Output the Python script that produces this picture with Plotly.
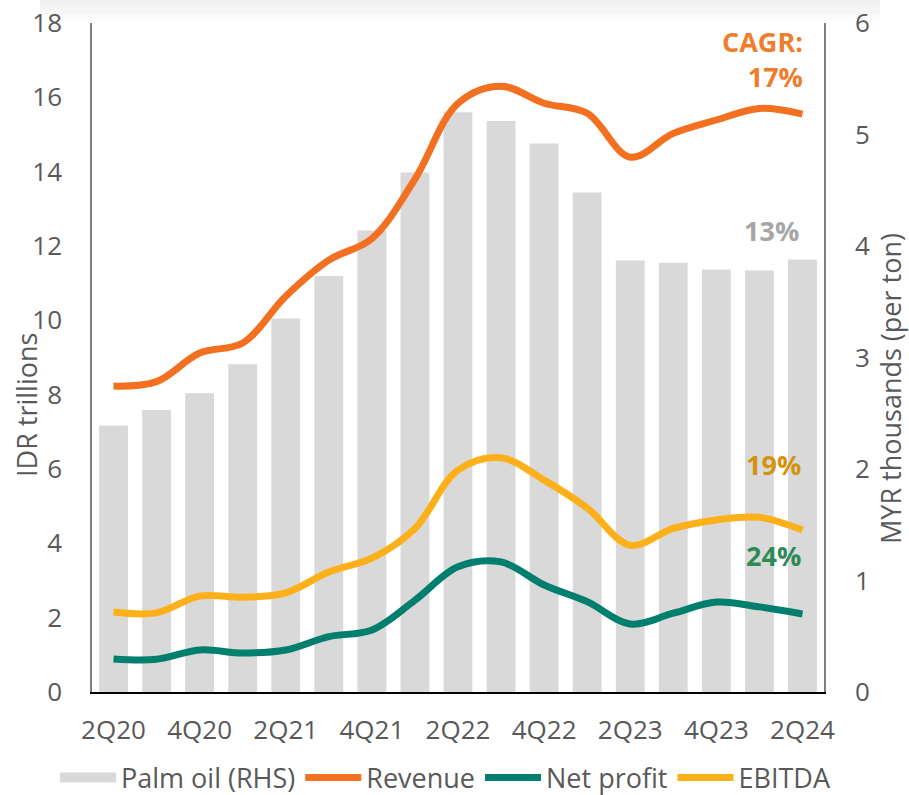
import plotly.graph_objects as go

quarters = ["2Q20", "3Q20", "4Q20", "1Q21", "2Q21", "3Q21", "4Q21", "1Q22", "2Q22",
            "3Q22", "4Q22", "1Q23", "2Q23", "3Q23", "4Q23", "1Q24", "2Q24"]
tick_labels = ["2Q20", "4Q20", "2Q21", "4Q21", "2Q22", "4Q22", "2Q23", "4Q23", "2Q24"]

palm_oil = [2.39, 2.53, 2.68, 2.94, 3.35, 3.73, 4.14, 4.66, 5.20,
            5.12, 4.92, 4.48, 3.87, 3.85, 3.79, 3.78, 3.88]
revenue = [8.23, 8.35, 9.12, 9.39, 10.65, 11.62, 12.2, 13.8, 15.84,
           16.3, 15.84, 15.57, 14.39, 15.03, 15.39, 15.7, 15.55]
ebitda = [2.15, 2.13, 2.58, 2.55, 2.67, 3.23, 3.6, 4.4, 5.97,
          6.3, 5.7, 4.95, 3.95, 4.4, 4.63, 4.7, 4.36]
net_profit = [0.89, 0.88, 1.13, 1.05, 1.13, 1.49, 1.67, 2.47, 3.37,
              3.5, 2.88, 2.43, 1.83, 2.12, 2.42, 2.29, 2.1]

FONT = "Open Sans"
GREY = "#595959"
W, H = 909, 795
L, R, T, B = 92, 85, 23, 103
PW, PH = W - L - R, H - T - B

fig = go.Figure()
fig.add_trace(go.Bar(x=quarters, y=palm_oil, name="Palm oil (RHS)", showlegend=False,
                     marker=dict(color="#D9D9D9", line=dict(width=0)), yaxis="y"))
# legend entry for the bars drawn as a wide grey block
fig.add_trace(go.Scatter(x=[None], y=[None], name="Palm oil (RHS)", mode="lines",
                         line=dict(color="#D9D9D9", width=16), yaxis="y"))
fig.add_trace(go.Scatter(x=quarters, y=revenue, name="Revenue", mode="lines",
                         line=dict(color="#F37021", width=7, shape="spline", smoothing=1.0),
                         yaxis="y2"))
fig.add_trace(go.Scatter(x=quarters, y=net_profit, name="Net profit", mode="lines",
                         line=dict(color="#007F6E", width=7, shape="spline", smoothing=1.0),
                         yaxis="y2"))
fig.add_trace(go.Scatter(x=quarters, y=ebitda, name="EBITDA", mode="lines",
                         line=dict(color="#FDB01A", width=7, shape="spline", smoothing=1.0),
                         yaxis="y2"))

tickfont = dict(family=FONT, size=26, color=GREY)

fig.update_layout(
    width=W, height=H,
    margin=dict(l=L, r=R, t=T, b=B, autoexpand=False),
    paper_bgcolor="white", plot_bgcolor="white",
    bargap=0.33,
    showlegend=True,
    legend=dict(orientation="h", x=(55 - L) / PW, xanchor="left", xref="paper",
                y=(H - B - 778) / PH, yanchor="middle", yref="paper",
                font=dict(family=FONT, size=27, color=GREY), itemwidth=56,
                traceorder="normal", tracegroupgap=0, bgcolor="rgba(0,0,0,0)"),
    xaxis=dict(type="category", tickmode="array", tickvals=tick_labels, ticktext=tick_labels,
               tickfont=tickfont, showgrid=False, showline=True, linecolor="#000000",
               linewidth=2, ticks="", ticklabelstandoff=14, zeroline=False),
    yaxis=dict(side="right", range=[0, 6], dtick=1, tickfont=tickfont, showgrid=False,
               showline=True, linecolor="#7F7F7F", linewidth=1.5, ticks="",
               ticklabelstandoff=24, zeroline=False),
    yaxis2=dict(side="left", overlaying="y", range=[0, 18], dtick=2, tickfont=tickfont,
                showgrid=False, showline=True, linecolor="#7F7F7F", linewidth=1.5,
                ticks="", ticklabelstandoff=23, zeroline=False),
)

# faint grey band along the top edge
for y0, y1, col in [(0, 7, "#F2F2F2"), (7, 14, "#F6F6F6"), (14, 21, "#FBFBFB")]:
    fig.add_shape(type="rect", xref="paper", yref="paper",
                  x0=(40 - L) / PW, x1=(880 - L) / PW,
                  y0=(H - B - y1) / PH, y1=(H - B - y0) / PH,
                  fillcolor=col, line=dict(width=0), layer="below")

annotations = [
    dict(text="IDR trillions", x=27, y=405, textangle=-90, xanchor="center",
         font=dict(family=FONT, size=27, color=GREY)),
    dict(text="MYR thousands (per ton)", x=890, y=389, textangle=-90, xanchor="center",
         font=dict(family=FONT, size=27, color=GREY)),
    dict(text="<b>CAGR:<br>17%</b>", x=805, y=59, xanchor="right", align="right",
         font=dict(family=FONT, size=27, color="#F07D2C")),
    dict(text="<b>13%</b>", x=801, y=230, xanchor="right",
         font=dict(family=FONT, size=27, color="#A6A6A6")),
    dict(text="<b>19%</b>", x=803, y=464, xanchor="right",
         font=dict(family=FONT, size=27, color="#D4930C")),
    dict(text="<b>24%</b>", x=803, y=555, xanchor="right",
         font=dict(family=FONT, size=27, color="#2E8B57")),
]
for a in annotations:
    px, py = a.pop("x"), a.pop("y")
    fig.add_annotation(x=(px - L) / PW, y=(H - B - py) / PH, xref="paper", yref="paper",
                       showarrow=False, yanchor="middle", **a)

fig.write_html(
    "out.html",
    config={"displayModeBar": False},
    post_script="document.body.style.margin='0';document.body.style.padding='0';"
                "document.documentElement.style.overflow='hidden';",
)
